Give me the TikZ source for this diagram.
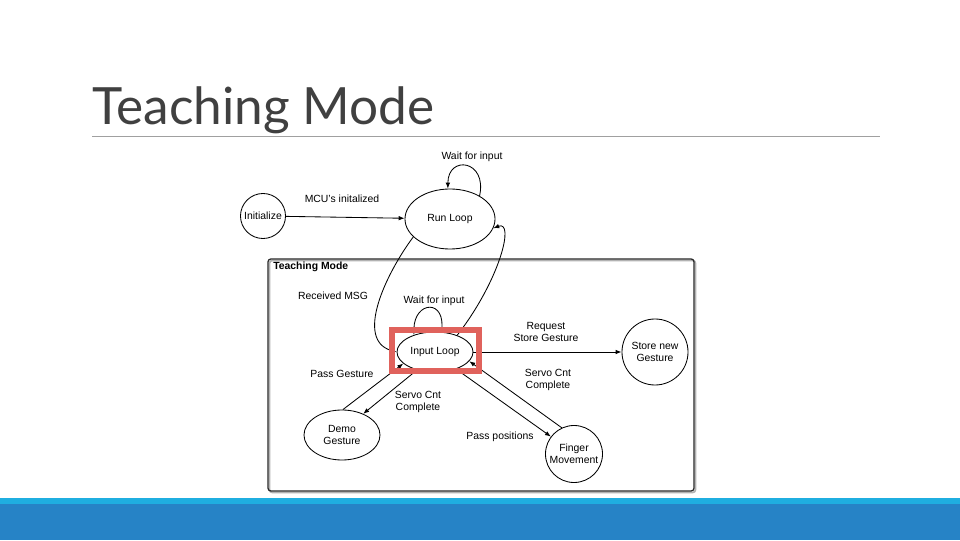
\documentclass[tikz,border=0pt]{standalone}
\usepackage{xcolor}
\usepackage{fontspec}
\setmainfont{Liberation Sans}
\newfontfamily\titlefont{Lato}
\usepackage{tikz}
\usetikzlibrary{arrows.meta, positioning, calc, shapes.geometric}

\definecolor{titlegray}{RGB}{64,64,64}
\definecolor{rulegray}{RGB}{160,160,160}
\definecolor{barlight}{RGB}{31,174,224}
\definecolor{bardark}{RGB}{38,131,198}
\definecolor{markred}{RGB}{224,98,92}

\begin{document}
\begin{tikzpicture}[x=0.025cm, y=0.025cm,
		>={Latex[length=4.2pt,width=3.2pt]},
		every node/.style={font=\fontsize{7.4}{8.6}\selectfont},
		state/.style={draw, line width=0.6pt, inner sep=0pt, align=center},
		roundstate/.style={state, circle, minimum size=#1},
		ovalstate/.style={state, ellipse},
		edgelabel/.style={align=center, inner sep=0pt},
		link/.style={line width=0.6pt}]
	\useasboundingbox (0,0) rectangle (960,540);
	% slide frame
	\fill[bardark] (0,0) rectangle (960,36);
	\fill[barlight] (0,36) rectangle (960,42);
	\node[anchor=base west, inner sep=0pt, text=titlegray, font=\titlefont\fontsize{36.5}{40}\selectfont] (title) at (92,415) {Teaching Mode};
	\draw[rulegray, line width=0.7pt] (92,404) -- (880,404);
	% teaching mode group
	\draw[gray!60, line width=1.2pt, rounded corners=2pt] (269.5,47.5) rectangle (695.5,279.5);
	\draw[black!85, line width=0.9pt, rounded corners=2pt] (268,49) rectangle (694,281);
	\node[anchor=west, inner sep=0pt, font=\bfseries\fontsize{7.4}{8.6}\selectfont] (group) at (273,273) {Teaching Mode};
	% states
	\node[roundstate=1.125cm] (init) at (263,324) {Initialize};
	\node[ovalstate, minimum width=2.25cm, minimum height=1.5cm] (run) at (450,321) {Run Loop};
	\node[ovalstate, minimum width=1.9cm, minimum height=1.0cm] (input) at (435,188) {Input Loop};
	\node[roundstate=1.65cm] (store) at (655,188) {Store new\\Gesture};
	\node[ovalstate, minimum width=1.9cm, minimum height=1.25cm] (demo) at (342,105) {Demo\\Gesture};
	\node[roundstate=1.425cm] (finger) at (574,86) {Finger\\Movement};
	% labels
	\node[edgelabel] (waitrun) at (472,383) {Wait for input};
	\node[edgelabel] (mcu) at (342,341) {MCU's initalized};
	\node[edgelabel] (recv) at (333,244) {Received MSG};
	\node[edgelabel] (waitinput) at (434,239) {Wait for input};
	\node[edgelabel] (request) at (546,208) {Request\\Store Gesture};
	\node[edgelabel] (passg) at (342,166) {Pass Gesture};
	\node[edgelabel] (servodemo) at (418,138) {Servo Cnt\\Complete};
	\node[edgelabel] (servofinger) at (548,160) {Servo Cnt\\Complete};
	\node[edgelabel] (passp) at (500,103) {Pass positions};
	% transitions
	\draw[link, ->] (init) -- (run);
	\draw[link, ->] (run.38) .. controls +(8,36) and +(0,34) .. (run.94);
	\draw[link, ->] (run.206) .. controls (385,265) and (355,200) .. (input.180);
	\draw[link, ->] (input.37) .. controls (500,260) and (515,320) .. (run.-12);
	\draw[link, ->] (input.72) .. controls +(5,34) and +(0,34) .. (input.141);
	\draw[link, ->] (input) -- (store);
	\draw[link, ->] (demo.88) -- (input.200);
	\draw[link, ->] (input.225) -- (demo.45);
	\draw[link, ->] (input.-39) -- (finger.143);
	\draw[link, ->] (finger.115) -- (input.-15);
	% highlight
	\draw[markred, line width=3.6pt] (392,210) rectangle (479,169);
\end{tikzpicture}
\end{document}
